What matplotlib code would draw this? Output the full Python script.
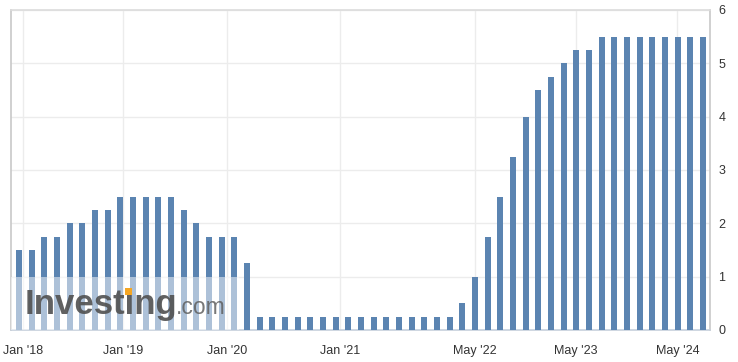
import matplotlib
matplotlib.use("Agg")
import matplotlib.pyplot as plt
import matplotlib.transforms as mtransforms
from matplotlib.patches import Rectangle
import numpy as np

plt.rcParams['font.family'] = ['Liberation Sans', 'DejaVu Sans']

# ---- data (Fed funds rate decisions, upper bound, %) ----
rates = [1.5, 1.5, 1.75, 1.75, 2.0, 2.0, 2.25, 2.25,
         2.5, 2.5, 2.5, 2.5, 2.5, 2.25, 2.0, 1.75, 1.75, 1.75, 1.25,
         0.25, 0.25, 0.25, 0.25, 0.25, 0.25, 0.25, 0.25,
         0.25, 0.25, 0.25, 0.25, 0.25, 0.25, 0.25, 0.25,
         0.5, 1.0, 1.75, 2.5, 3.25, 4.0, 4.5, 4.75, 5.0, 5.25, 5.25,
         5.5, 5.5, 5.5, 5.5, 5.5, 5.5, 5.5, 5.5, 5.5]
tick_labels = ["Jan '18", "Jan '19", "Jan '20", "Jan '21", "May '22", "May '23", "May '24"]
tick_pos = [0.34, 8.23, 16.42, 25.34, 36.0, 43.97, 51.97]
y_ticks = [0, 1, 2, 3, 4, 5, 6]

W, H = 738, 362
fig = plt.figure(figsize=(W / 100, H / 100), dpi=100)
ax = fig.add_axes([11 / W, (H - 330) / H, (710 - 11) / W, (330 - 10) / H])

x = np.arange(len(rates))
ax.bar(x, rates, width=0.47, color='#5b84b1', zorder=3)

ax.set_xlim(-0.63, 54.55)
ax.set_ylim(0, 6)

ax.set_xticks(tick_pos)
ax.set_xticklabels(tick_labels)
ax.set_yticks(y_ticks)
ax.yaxis.tick_right()
ax.tick_params(axis='both', length=0, labelsize=9, colors='#333333')
ax.tick_params(axis='x', pad=11)
ax.tick_params(axis='y', pad=6)

ax.grid(True, color='#ececec', linewidth=1, zorder=0)

for side, col in [('left', '#c8c8c8'), ('right', '#c8c8c8'), ('top', '#dcdcdc'), ('bottom', '#c6d0dc')]:
    ax.spines[side].set_color(col)
    ax.spines[side].set_linewidth(1.2)

# watermark
ax.add_patch(Rectangle((-0.63, 0), 18.0, 1.0, facecolor='white', alpha=0.5,
                       edgecolor='none', zorder=4))
fig.text(25 / W, (H - 314) / H, "Investing", fontsize=25, fontweight='bold',
         color='#505050', alpha=0.9, va='baseline', ha='left', zorder=5)
fig.text(176 / W, (H - 314) / H, ".com", fontsize=16.5, color='#606060',
         alpha=0.85, va='baseline', ha='left', zorder=5)
fig.patches.append(Rectangle((125 / W, (H - 295) / H), 7 / W, 7 / H,
                             facecolor='#f5a623', edgecolor='none',
                             transform=fig.transFigure, figure=fig, zorder=6))

fig.savefig("out.png", dpi=100)
